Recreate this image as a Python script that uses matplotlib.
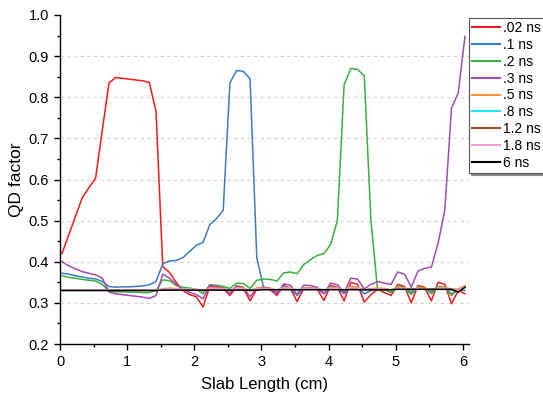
import matplotlib
matplotlib.use('Agg')
import matplotlib.pyplot as plt
from matplotlib.ticker import MultipleLocator

plt.rcParams['font.family'] = ['Liberation Sans', 'DejaVu Sans']

# slab positions (cm)
slab_x = [0.03, 0.13, 0.23, 0.33, 0.43, 0.53, 0.63, 0.73, 0.83, 0.93,
          1.03, 1.13, 1.23, 1.33, 1.43, 1.53, 1.63, 1.73, 1.83, 1.93,
          2.03, 2.13, 2.23, 2.33, 2.43, 2.53, 2.63, 2.73, 2.83, 2.93,
          3.03, 3.13, 3.23, 3.33, 3.43, 3.53, 3.63, 3.73, 3.83, 3.93,
          4.03, 4.13, 4.23, 4.33, 4.43, 4.53, 4.63, 4.73, 4.83, 4.93,
          5.03, 5.13, 5.23, 5.33, 5.43, 5.53, 5.63, 5.73, 5.83, 5.93,
          6.03]

qd_002 = [0.42, 0.465, 0.51, 0.555, 0.58, 0.603, 0.72, 0.835, 0.848, 0.846,
          0.844, 0.842, 0.84, 0.836, 0.765, 0.388, 0.374, 0.35, 0.33, 0.32,
          0.315, 0.29, 0.34, 0.338, 0.335, 0.318, 0.34, 0.336, 0.305, 0.333,
          0.335, 0.332, 0.318, 0.342, 0.336, 0.303, 0.335, 0.336, 0.333, 0.306,
          0.342, 0.338, 0.305, 0.35, 0.345, 0.302, 0.32, 0.333, 0.325, 0.318,
          0.345, 0.34, 0.30, 0.342, 0.338, 0.305, 0.35, 0.345, 0.298, 0.33,
          0.322]

qd_01 = [0.372, 0.37, 0.366, 0.363, 0.36, 0.358, 0.352, 0.34, 0.338, 0.339,
         0.339, 0.34, 0.341, 0.344, 0.352, 0.395, 0.402, 0.403, 0.41, 0.425,
         0.44, 0.447, 0.49, 0.505, 0.525, 0.835, 0.865, 0.863, 0.845, 0.41,
         0.338, 0.334, 0.325, 0.34, 0.336, 0.318, 0.335, 0.336, 0.334, 0.322,
         0.338, 0.336, 0.322, 0.34, 0.338, 0.322, 0.33, 0.334, 0.332, 0.328,
         0.338, 0.336, 0.325, 0.338, 0.336, 0.327, 0.338, 0.336, 0.322, 0.332,
         0.33]

qd_02 = [0.366, 0.362, 0.36, 0.357, 0.355, 0.353, 0.345, 0.328, 0.327, 0.327,
         0.326, 0.326, 0.325, 0.325, 0.33, 0.356, 0.354, 0.342, 0.338, 0.336,
         0.333, 0.322, 0.344, 0.343, 0.34, 0.335, 0.348, 0.347, 0.335, 0.355,
         0.358, 0.357, 0.353, 0.373, 0.375, 0.371, 0.393, 0.405, 0.415, 0.42,
         0.442, 0.5, 0.83, 0.87, 0.868, 0.852, 0.5, 0.33, 0.332, 0.325,
         0.34, 0.337, 0.32, 0.338, 0.336, 0.322, 0.34, 0.338, 0.318, 0.334,
         0.338]

qd_03 = [0.40, 0.39, 0.383, 0.376, 0.372, 0.368, 0.36, 0.326, 0.322, 0.32,
         0.318, 0.316, 0.314, 0.311, 0.318, 0.37, 0.36, 0.345, 0.333, 0.326,
         0.32, 0.31, 0.343, 0.34, 0.337, 0.323, 0.342, 0.338, 0.315, 0.336,
         0.338, 0.336, 0.322, 0.346, 0.343, 0.32, 0.343, 0.342, 0.338, 0.322,
         0.348, 0.344, 0.325, 0.36, 0.358, 0.334, 0.345, 0.352, 0.348, 0.345,
         0.375, 0.37, 0.338, 0.377, 0.384, 0.387, 0.445, 0.526, 0.774, 0.81,
         0.948]

qd_05 = [0.331, 0.331, 0.331, 0.331, 0.331, 0.331, 0.331, 0.331, 0.331, 0.331,
         0.331, 0.331, 0.331, 0.331, 0.331, 0.334, 0.336, 0.335, 0.334, 0.333,
         0.333, 0.328, 0.337, 0.336, 0.335, 0.33, 0.337, 0.336, 0.329, 0.336,
         0.336, 0.335, 0.33, 0.338, 0.337, 0.329, 0.336, 0.336, 0.335, 0.33,
         0.338, 0.337, 0.33, 0.34, 0.339, 0.331, 0.335, 0.336, 0.335, 0.331,
         0.338, 0.337, 0.331, 0.337, 0.336, 0.332, 0.338, 0.337, 0.334, 0.334,
         0.342]

qd_08 = [0.331, 0.331, 0.331, 0.331, 0.331, 0.331, 0.331, 0.331, 0.331, 0.331,
         0.331, 0.331, 0.331, 0.331, 0.331, 0.333, 0.334, 0.334, 0.333, 0.333,
         0.332, 0.329, 0.335, 0.334, 0.334, 0.33, 0.335, 0.334, 0.33, 0.334,
         0.334, 0.333, 0.331, 0.336, 0.335, 0.33, 0.334, 0.334, 0.333, 0.331,
         0.336, 0.335, 0.331, 0.337, 0.336, 0.331, 0.334, 0.334, 0.333, 0.331,
         0.336, 0.335, 0.331, 0.335, 0.334, 0.332, 0.336, 0.335, 0.332, 0.332,
         0.338]

qd_12 = [0.331, 0.331, 0.331, 0.331, 0.331, 0.331, 0.331, 0.331, 0.331, 0.331,
         0.331, 0.331, 0.331, 0.331, 0.331, 0.332, 0.333, 0.333, 0.332, 0.332,
         0.332, 0.33, 0.334, 0.333, 0.333, 0.331, 0.334, 0.333, 0.33, 0.333,
         0.333, 0.333, 0.331, 0.335, 0.334, 0.331, 0.333, 0.333, 0.333, 0.331,
         0.334, 0.334, 0.331, 0.335, 0.335, 0.331, 0.333, 0.333, 0.333, 0.331,
         0.334, 0.334, 0.332, 0.334, 0.333, 0.332, 0.334, 0.334, 0.331, 0.33,
         0.338]

qd_18 = [0.331, 0.331, 0.331, 0.331, 0.331, 0.331, 0.331, 0.331, 0.331, 0.331,
         0.331, 0.331, 0.331, 0.331, 0.331, 0.333, 0.334, 0.334, 0.333, 0.333,
         0.333, 0.33, 0.335, 0.334, 0.334, 0.331, 0.335, 0.334, 0.331, 0.334,
         0.334, 0.334, 0.331, 0.336, 0.335, 0.331, 0.334, 0.334, 0.334, 0.331,
         0.335, 0.335, 0.331, 0.337, 0.336, 0.331, 0.334, 0.334, 0.334, 0.331,
         0.335, 0.335, 0.332, 0.335, 0.334, 0.332, 0.336, 0.335, 0.332, 0.331,
         0.339]

qd_6 = [0.33, 0.33, 0.33, 0.33, 0.33, 0.33, 0.33, 0.33, 0.33, 0.33,
        0.33, 0.33, 0.33, 0.33, 0.33, 0.331, 0.331, 0.331, 0.331, 0.331,
        0.331, 0.331, 0.331, 0.331, 0.331, 0.331, 0.331, 0.331, 0.331, 0.331,
        0.332, 0.332, 0.332, 0.332, 0.332, 0.332, 0.332, 0.332, 0.332, 0.332,
        0.332, 0.332, 0.332, 0.332, 0.332, 0.332, 0.332, 0.332, 0.332, 0.332,
        0.333, 0.333, 0.333, 0.333, 0.333, 0.333, 0.333, 0.333, 0.333, 0.326,
        0.338]

labels = ['.02 ns', '.1 ns', '.2 ns', '.3 ns', '.5 ns', '.8 ns', '1.2 ns', '1.8 ns', '6 ns']
series = [qd_002, qd_01, qd_02, qd_03, qd_05, qd_08, qd_12, qd_18, qd_6]
colors = ['#f01c1c', '#3a7cc4', '#3cb03c', '#a04cb4', '#ff9430',
          '#18e8f8', '#a0522d', '#f79ed0', '#000000']

fig = plt.figure(figsize=(5.43, 4.0), dpi=100)
ax = fig.add_axes([0.1105, 0.14, 0.7532, 0.8225])

for vals, lab, col in zip(series, labels, colors):
    ax.plot(slab_x, vals, color=col, lw=1.1, label=lab)

ax.set_xlim(0, 6.09)
ax.set_ylim(0.2, 1.0)
ax.xaxis.set_major_locator(MultipleLocator(1))
ax.xaxis.set_minor_locator(MultipleLocator(0.5))
ax.yaxis.set_major_locator(MultipleLocator(0.1))
ax.yaxis.set_minor_locator(MultipleLocator(0.05))
ax.yaxis.set_major_formatter(plt.FormatStrFormatter('%.1f'))

for y in [0.3, 0.4, 0.5, 0.6, 0.7, 0.8, 0.9]:
    ax.axhline(y, color='#d4d4d4', lw=0.8, ls=(0, (3, 3)), zorder=0)

ax.spines['top'].set_visible(False)
ax.spines['right'].set_visible(False)
ax.spines['left'].set_linewidth(1.0)
ax.spines['bottom'].set_linewidth(1.0)
ax.tick_params(which='major', direction='out', length=4.5, width=1.0, labelsize=10.5)
ax.tick_params(which='minor', direction='out', length=2.5, width=1.0)

ax.set_xlabel('Slab Length (cm)', fontsize=12, labelpad=6)
ax.set_ylabel('QD factor', fontsize=12.5, labelpad=3)

leg = ax.legend(loc='upper left', bbox_to_anchor=(1.0, 0.99), borderaxespad=0,
                fontsize=10, frameon=True, fancybox=False, handlelength=2.0,
                handletextpad=0.2, labelspacing=0.2, borderpad=0.22,
                shadow={'ox': 1.5, 'oy': -1.5, 'color': '0.55', 'alpha': 1})
leg.get_frame().set_edgecolor('#555555')
leg.get_frame().set_linewidth(0.8)
for line in leg.get_lines():
    line.set_linewidth(1.5)

fig.savefig('out.png', dpi=100)
